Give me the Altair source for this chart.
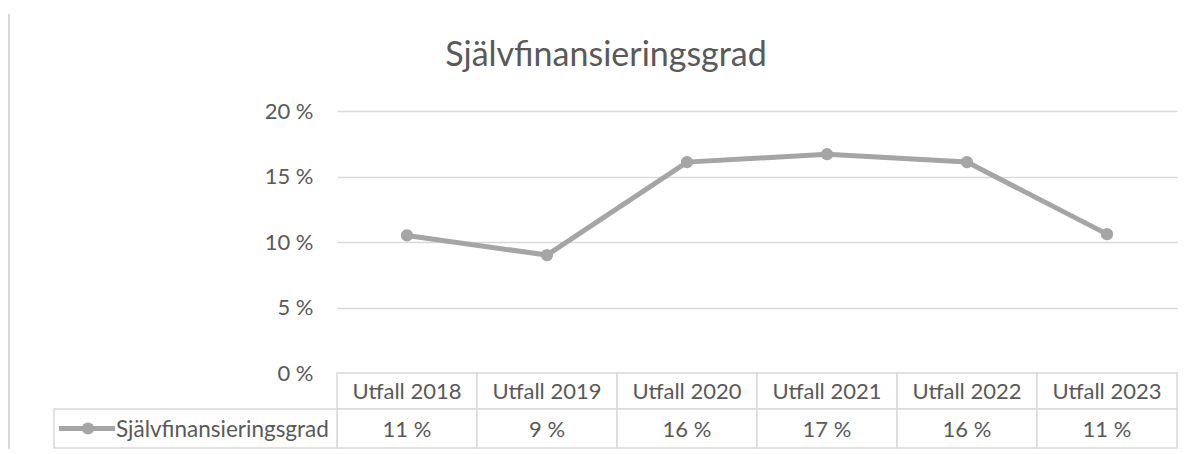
import altair as alt
import pandas as pd

categories = ["Utfall 2018", "Utfall 2019", "Utfall 2020", "Utfall 2021", "Utfall 2022", "Utfall 2023"]
values = [10.5, 9.0, 16.1, 16.7, 16.1, 10.6]
value_labels = ["11 %", "9 %", "16 %", "17 %", "16 %", "11 %"]
series_name = "Självfinansieringsgrad"
title_text = "Självfinansieringsgrad"

df = pd.DataFrame({"cat": categories, "val": values, "lab": value_labels})
one = pd.DataFrame({"k": [0]})

FONT = "Lato"
TXT = "#595959"
GRID = "#d9d9d9"
LINE = "#a5a5a5"

W, H = 840, 262
ROW1_TOP, ROW1_BOT, ROW2_BOT = 262, 298, 337

xenc = alt.X("cat:N", scale=alt.Scale(type="band", paddingInner=0, paddingOuter=0, domain=categories), axis=None)

line = alt.Chart(df).mark_line(color=LINE, strokeWidth=5, point=alt.OverlayMarkDef(filled=True, size=150, color=LINE, opacity=1)).encode(
    x=xenc,
    y=alt.Y("val:Q", scale=alt.Scale(domain=[0, 20]),
            axis=alt.Axis(values=[0, 5, 10, 15, 20], title=None, domain=False, ticks=False,
                          labelExpr="datum.value + ' %'", labelFont=FONT, labelFontSize=22,
                          labelColor=TXT, labelPadding=24, gridColor=GRID, gridWidth=1.3)),
)

head_cells = alt.Chart(df).mark_rect(fill="white", stroke=GRID, strokeWidth=1.5).encode(
    x=xenc, y=alt.value(ROW1_TOP), y2=alt.value(ROW1_BOT))
val_cells = alt.Chart(df).mark_rect(fill="white", stroke=GRID, strokeWidth=1.5).encode(
    x=xenc, y=alt.value(ROW1_BOT), y2=alt.value(ROW2_BOT))
head_text = alt.Chart(df).mark_text(font=FONT, fontSize=22, color=TXT, baseline="middle").encode(
    x=xenc, y=alt.value((ROW1_TOP + ROW1_BOT) / 2 + 1), text="cat:N")
val_text = alt.Chart(df).mark_text(font=FONT, fontSize=22, color=TXT, baseline="middle").encode(
    x=xenc, y=alt.value((ROW1_BOT + ROW2_BOT) / 2 + 1), text="lab:N")

legend_cell = alt.Chart(one).mark_rect(fill="white", stroke=GRID, strokeWidth=1.5).encode(
    x=alt.value(-283), x2=alt.value(0), y=alt.value(ROW1_BOT), y2=alt.value(ROW2_BOT))
legend_line = alt.Chart(one).mark_rule(color=LINE, strokeWidth=5).encode(
    x=alt.value(-278), x2=alt.value(-222), y=alt.value((ROW1_BOT + ROW2_BOT) / 2))
legend_pt = alt.Chart(one).mark_point(filled=True, size=150, color=LINE, opacity=1).encode(
    x=alt.value(-249), y=alt.value((ROW1_BOT + ROW2_BOT) / 2))
legend_text = alt.Chart(pd.DataFrame({"t": [series_name]})).mark_text(
    font=FONT, fontSize=22.5, color=TXT, align="left", baseline="middle").encode(
    x=alt.value(-221), y=alt.value((ROW1_BOT + ROW2_BOT) / 2 + 1), text="t:N")

title = alt.Chart(pd.DataFrame({"t": [title_text]})).mark_text(
    font=FONT, fontSize=34, color=TXT, align="center", baseline="alphabetic").encode(
    x=alt.value(269), y=alt.value(-45), text="t:N")

page_line = alt.Chart(one).mark_rule(color="#d9d9d9", strokeWidth=2).encode(
    x=alt.value(-328), y=alt.value(-97), y2=alt.value(H + 80))

chart = alt.layer(
    page_line, head_cells, val_cells, head_text, val_text,
    legend_cell, legend_line, legend_pt, legend_text, title, line
).properties(
    width=W, height=H,
    autosize=alt.AutoSizeParams(type="none"),
    padding={"left": 329, "top": 103, "right": 9, "bottom": 76},
).configure_view(stroke=None)

chart.save("out.html", embed_options={"renderer": "svg", "actions": False})
